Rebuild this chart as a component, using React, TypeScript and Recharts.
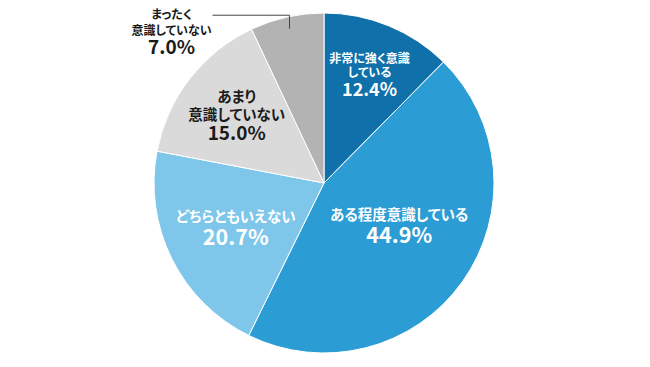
import React from 'react';
import { PieChart, Pie, Cell } from 'recharts';

const categories = ['非常に強く意識している', 'ある程度意識している', 'どちらともいえない', 'あまり意識していない', 'まったく意識していない'];
const values = [12.4, 44.9, 20.7, 15.0, 7.0];
const labelLines = [
  ['非常に強く意識', 'している'],
  ['ある程度意識している'],
  ['どちらともいえない'],
  ['あまり', '意識していない'],
  ['まったく', '意識していない'],
];
const colors = ['#0f70aa', '#2c9cd5', '#7ec7eb', '#dadada', '#b3b3b3'];

const data = categories.map((name, i) => ({ name, value: values[i] }));

// per-slice label placement: radius ratio, nudge, colour, sizes, line spacing
const labelStyle = [
  { r: 0.69, dx: 1, dy: 0, fill: '#fff', size: 12, pct: 18, gap: 14, pctGap: 19 },
  { r: 0.5, dx: 6, dy: -7, fill: '#fff', size: 14.5, pct: 21.5, gap: 18, pctGap: 23 },
  { r: 0.58, dx: 0, dy: 0, fill: '#fff', size: 14.5, pct: 21.5, gap: 18, pctGap: 23 },
  { r: 0.65, dx: 0, dy: 0, fill: '#1a1a1a', size: 14.5, pct: 19, gap: 18, pctGap: 20 },
  { r: 0.93, dx: 0, dy: 0, fill: '#1a1a1a', size: 12, pct: 19, gap: 16, pctGap: 19 },
];

const FONT = '"Noto Sans CJK JP", "Noto Sans", sans-serif';
const RAD = Math.PI / 180;

const renderLabel = (props: any) => {
  const { cx, cy, midAngle, outerRadius, index, value } = props;
  const st = labelStyle[index];
  const lines = labelLines[index];
  let x = cx + outerRadius * st.r * Math.cos(-midAngle * RAD) + st.dx;
  let y = cy + outerRadius * st.r * Math.sin(-midAngle * RAD) + st.dy;
  let leader = null;
  if (index === 4) {
    // outside label with elbow leader line
    const px = x, py = y;
    const ey = py - 13.5;
    const ex = px - 77;
    leader = <polyline points={`${px},${py} ${px},${ey} ${ex},${ey}`} fill="none" stroke="#444" strokeWidth={1} />;
    x = ex - 41;
    y = ey + 16;
  }
  const n = lines.length;
  const asc = st.size * 0.85;
  const total = (n - 1) * st.gap + st.pctGap + asc;
  const first = y - total / 2 + asc;
  const txt = { fontFamily: FONT, fontWeight: 700, fontFeatureSettings: '"palt"' };
  return (
    <g>
      {leader}
      {lines.map((t, i) => (
        <text key={i} x={x} y={first + i * st.gap} textAnchor="middle" fill={st.fill}
          style={{ ...txt, fontSize: st.size }}>{t}</text>
      ))}
      <text x={x} y={first + (n - 1) * st.gap + st.pctGap} textAnchor="middle" fill={st.fill}
        style={{ ...txt, fontSize: st.pct }}>{value.toFixed(1)}%</text>
    </g>
  );
};

export default function App() {
  return (
    <div style={{ position: 'fixed', left: 0, top: 0, width: 650, height: 367, background: '#fff' }}>
      <PieChart width={650} height={367} margin={{ top: 0, right: 0, bottom: 0, left: 0 }}>
        <Pie
          data={data}
          dataKey="value"
          cx={324}
          cy={183}
          outerRadius={170}
          startAngle={90}
          endAngle={-270}
          stroke="#fff"
          strokeWidth={1}
          label={renderLabel}
          labelLine={false}
          isAnimationActive={false}
        >
          {data.map((d, i) => <Cell key={d.name} fill={colors[i]} />)}
        </Pie>
      </PieChart>
    </div>
  );
}
